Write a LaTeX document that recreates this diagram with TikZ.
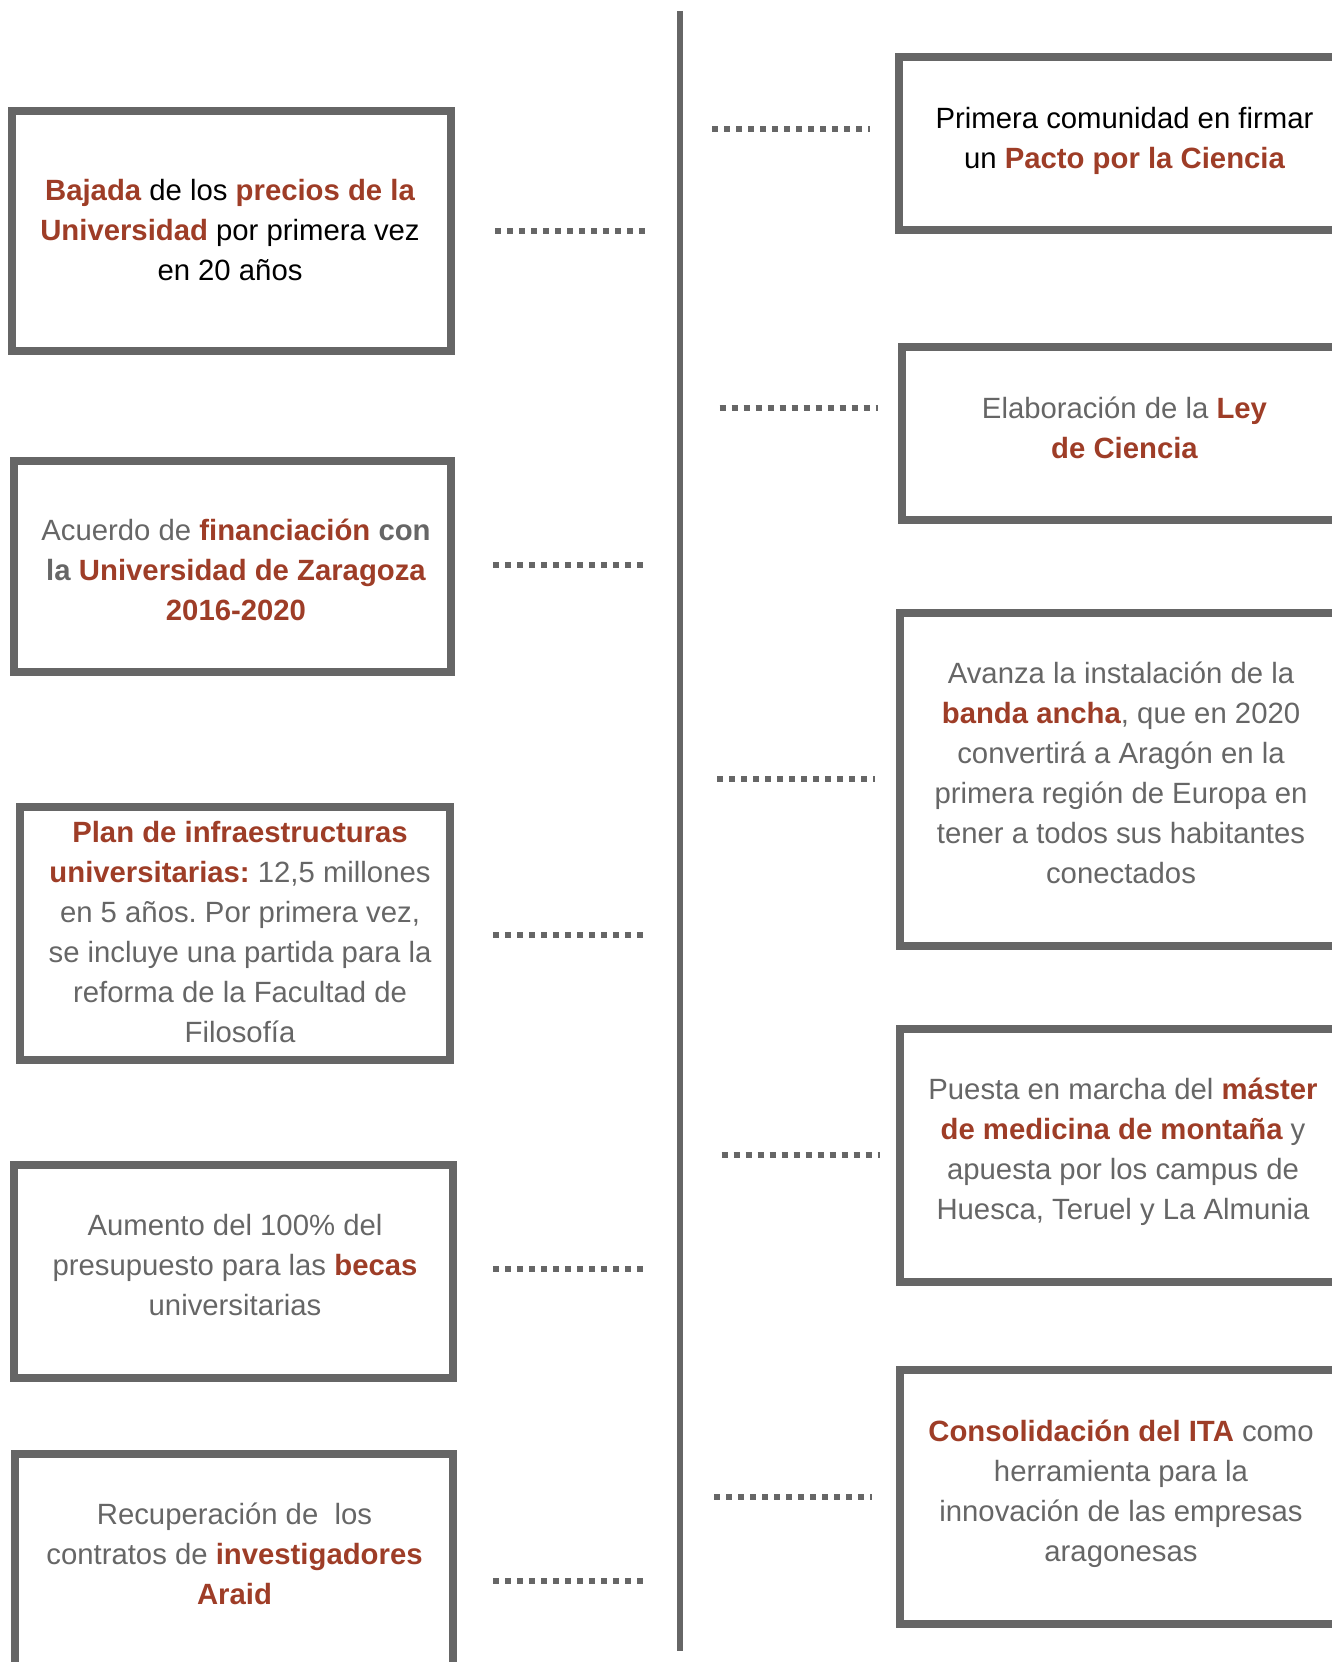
\documentclass[tikz,border=0pt]{standalone}
\usepackage{fontspec}
\setmainfont{Liberation Sans}
\frenchspacing
\definecolor{bordergray}{HTML}{666666}
\definecolor{txtgray}{HTML}{666666}
\definecolor{accent}{HTML}{9E3D27}
\newcommand{\hl}[1]{\textbf{\color{accent}#1}}
\begin{document}
\begin{tikzpicture}[x=1pt,y=-1pt,
  frame/.style={draw=bordergray,line width=8pt,inner sep=0pt,rectangle},
  txt/.style={align=center,inner sep=0pt,text=txtgray,font=\fontsize{29.3}{40}\selectfont},
  dotline/.style={draw=bordergray,line width=6pt,dash pattern=on 6pt off 6pt,line cap=butt}]
\useasboundingbox (0,0) rectangle (1332,1662);
\clip (0,0) rectangle (1332,1662);

% timeline
\coordinate (ltop) at (680,11);
\coordinate (lbot) at (680,1651);
\draw[draw=bordergray,line width=6pt] (ltop) -- (lbot);

% left boxes
\node[frame,minimum width=439pt,minimum height=240pt] (L1) at (231.5,231) {};
\node[frame,minimum width=437pt,minimum height=211pt] (L2) at (232.5,566.5) {};
\node[frame,minimum width=429.5pt,minimum height=253pt] (L3) at (234.75,933.5) {};
\node[frame,minimum width=439pt,minimum height=213pt] (L4) at (233.5,1271.5) {};
\node[frame,minimum width=438.5pt,minimum height=246pt] (L5) at (233.75,1577) {};

% right boxes
\node[frame,minimum width=448pt,minimum height=173pt] (R1) at (1123,143.5) {};
\node[frame,minimum width=445.5pt,minimum height=173pt] (R2) at (1124.25,433.5) {};
\node[frame,minimum width=447.5pt,minimum height=333pt] (R3) at (1123.25,779.5) {};
\node[frame,minimum width=447.5pt,minimum height=253.5pt] (R4) at (1123.25,1155.25) {};
\node[frame,minimum width=447.5pt,minimum height=253.5pt] (R5) at (1123.25,1496.75) {};

% texts
\node[txt,text=black] (tL1) at (230,232) {\strut\hl{Bajada} de los \hl{precios de la}\\\strut\hl{Universidad} por primera vez\\\strut en 20 años};
\node[txt] (tL2) at (236,572) {\strut Acuerdo de \hl{financiación} \textbf{con}\\\strut\textbf{la} \hl{Universidad de Zaragoza}\\\strut\hl{2016-2020}};
\node[txt] (tL3) at (240,934) {\strut\hl{Plan de infraestructuras}\\\strut\hl{universitarias:} 12,5 millones\\\strut en 5 años. Por primera vez,\\\strut se incluye una partida para la\\\strut reforma de la Facultad de\\\strut Filosofía};
\node[txt] (tL4) at (235,1267) {\strut Aumento del 100\% del\\\strut presupuesto para las \hl{becas}\\\strut universitarias};
\node[txt] (tL5) at (234.5,1556) {\strut Recuperación de\ \ los\\\strut contratos de \hl{investigadores}\\\strut\hl{Araid}};

\node[txt,text=black] (tR1) at (1124.5,140.3) {\strut Primera comunidad en firmar\\\strut un \hl{Pacto por la Ciencia}};
\node[txt] (tR2) at (1124.5,430) {\strut Elaboración de la \hl{Ley}\\\strut\hl{de Ciencia}};
\node[txt] (tR3) at (1121,775.7) {\strut Avanza la instalación de la\\\strut\hl{banda ancha}, que en 2020\\\strut convertirá a Aragón en la\\\strut primera región de Europa en\\\strut tener a todos sus habitantes\\\strut conectados};
\node[txt] (tR4) at (1123,1151) {\strut Puesta en marcha del \hl{máster}\\\strut\hl{de medicina de montaña} y\\\strut apuesta por los campus de\\\strut Huesca, Teruel y La Almunia};
\node[txt] (tR5) at (1121,1493) {\strut\hl{Consolidación del ITA} como\\\strut herramienta para la\\\strut innovación de las empresas\\\strut aragonesas};

% dotted connectors
\coordinate (dL1a) at (495,231);   \coordinate (dL1b) at (645,231);
\coordinate (dL2a) at (493,565);   \coordinate (dL2b) at (643,565);
\coordinate (dL3a) at (493,935);   \coordinate (dL3b) at (643,935);
\coordinate (dL4a) at (493,1268.5);\coordinate (dL4b) at (643,1268.5);
\coordinate (dL5a) at (493,1581);  \coordinate (dL5b) at (643,1581);
\coordinate (dR1a) at (712,129);   \coordinate (dR1b) at (870,129);
\coordinate (dR2a) at (719.5,408); \coordinate (dR2b) at (877.5,408);
\coordinate (dR3a) at (717.4,779); \coordinate (dR3b) at (875.4,779);
\coordinate (dR4a) at (721.7,1155);\coordinate (dR4b) at (879.7,1155);
\coordinate (dR5a) at (714.2,1497.4);\coordinate (dR5b) at (872.2,1497.4);
\foreach \n in {L1,L2,L3,L4,L5,R1,R2,R3,R4,R5}{
  \draw[dotline] (d\n a) -- (d\n b);
}
\end{tikzpicture}
\end{document}
